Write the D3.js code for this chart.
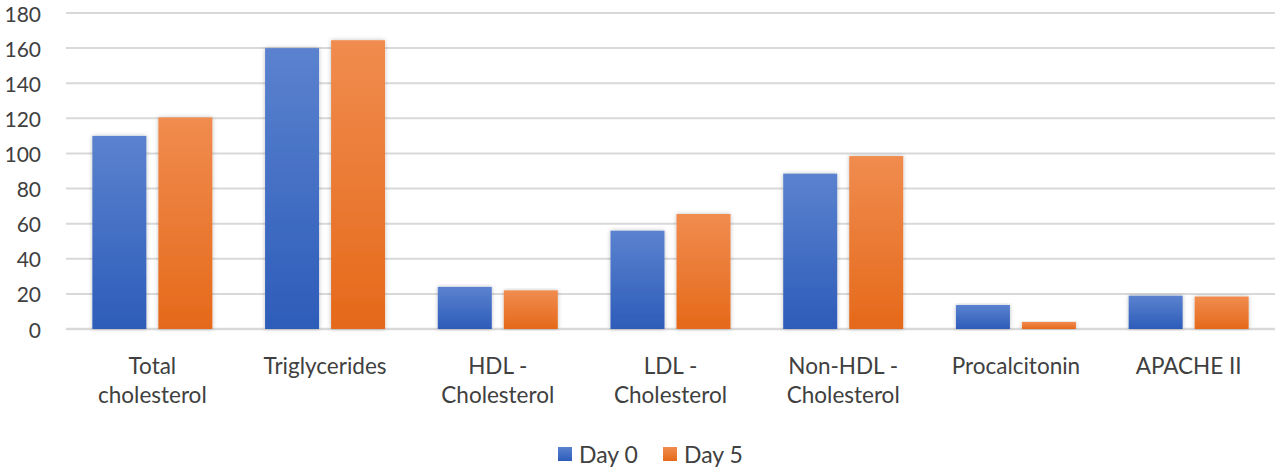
<!DOCTYPE html>
<html>
<head>
<meta charset="utf-8">
<script src="https://cdn.jsdelivr.net/npm/d3@7"></script>
<style>
  body { margin: 0; background: #fff; }
  svg { display: block; }
  text { font-family: Lato, "Open Sans", sans-serif; fill: #404040; }
</style>
</head>
<body>
<div id="chart"></div>
<script>
const categories = [
  ['Total', 'cholesterol'],
  ['Triglycerides'],
  ['HDL -', 'Cholesterol'],
  ['LDL -', 'Cholesterol'],
  ['Non-HDL -', 'Cholesterol'],
  ['Procalcitonin'],
  ['APACHE II']
];
const day0 = [110, 160, 24, 56, 88.5, 13.7, 19];
const day5 = [120.5, 164.5, 22, 65.5, 98.5, 4, 18.5];
const seriesNames = ['Day 0', 'Day 5'];
const yTicks = [0, 20, 40, 60, 80, 100, 120, 140, 160, 180];

const width = 1280;
const height = 468;
const margin = { top: 13, right: 5, bottom: 139, left: 66 };

const svg = d3.select('#chart')
  .append('svg')
  .attr('width', width)
  .attr('height', height);

const defs = svg.append('defs');
const grads = [
  { id: 'gBlue', top: '#5b82cf', bottom: '#2d5cb9' },
  { id: 'gOrange', top: '#f08c4f', bottom: '#e5691a' }
];
grads.forEach((g) => {
  const lg = defs.append('linearGradient')
    .attr('id', g.id)
    .attr('x1', 0).attr('y1', 0).attr('x2', 0).attr('y2', 1);
  lg.append('stop').attr('offset', '0%').attr('stop-color', g.top);
  lg.append('stop').attr('offset', '100%').attr('stop-color', g.bottom);
});
const shadow = defs.append('filter').attr('id', 'shadow')
  .attr('x', '-20%').attr('y', '-5%').attr('width', '140%').attr('height', '110%');
shadow.append('feDropShadow')
  .attr('dx', 0).attr('dy', 0).attr('stdDeviation', 2)
  .attr('flood-color', '#000').attr('flood-opacity', 0.25);

const x = d3.scaleBand()
  .domain(d3.range(categories.length))
  .range([margin.left, width - margin.right]);

const y = d3.scaleLinear()
  .domain([0, 180])
  .range([height - margin.bottom, margin.top]);

// gridlines
svg.append('g')
  .selectAll('line')
  .data(yTicks)
  .join('line')
  .attr('x1', margin.left)
  .attr('x2', width - margin.right)
  .attr('y1', (d) => y(d))
  .attr('y2', (d) => y(d))
  .attr('stroke', '#d9d9d9')
  .attr('stroke-width', (d) => (d === 0 ? 2.5 : 2));

// y tick labels
svg.append('g')
  .selectAll('text')
  .data(yTicks)
  .join('text')
  .attr('x', 41)
  .attr('y', (d) => y(d))
  .attr('text-anchor', 'end')
  .attr('dominant-baseline', 'central')
  .style('font-size', '21px')
  .text((d) => d);

const barW = 54;
const gap = 12;
const series = [day0, day5];

series.forEach((vals, si) => {
  svg.append('g')
    .selectAll('rect')
    .data(vals)
    .join('rect')
    .attr('x', (d, i) => x(i) + x.bandwidth() / 2 + (si === 0 ? -gap / 2 - barW : gap / 2))
    .attr('y', (d) => y(d))
    .attr('width', barW)
    .attr('height', (d) => y(0) - y(d))
    .attr('fill', `url(#${grads[si].id})`)
    .attr('filter', 'url(#shadow)');
});

// category labels
const lab = svg.append('g')
  .selectAll('text')
  .data(categories)
  .join('text')
  .attr('text-anchor', 'middle')
  .style('font-size', '22.5px')
  .attr('transform', (d, i) => `translate(${x(i) + x.bandwidth() / 2},374)`);
lab.selectAll('tspan')
  .data((d) => d)
  .join('tspan')
  .attr('x', 0)
  .attr('y', (d, i) => i * 29)
  .text((d) => d);

// legend
const legend = svg.append('g');
const legendItems = [
  { name: seriesNames[0], fill: 'url(#gBlue)', x: 558 },
  { name: seriesNames[1], fill: 'url(#gOrange)', x: 663 }
];
legendItems.forEach((it) => {
  legend.append('rect')
    .attr('x', it.x).attr('y', 447)
    .attr('width', 14).attr('height', 14)
    .attr('fill', it.fill);
  legend.append('text')
    .attr('x', it.x + 21).attr('y', 454)
    .attr('dominant-baseline', 'central')
    .style('font-size', '23px')
    .text(it.name);
});
</script>
</body>
</html>
